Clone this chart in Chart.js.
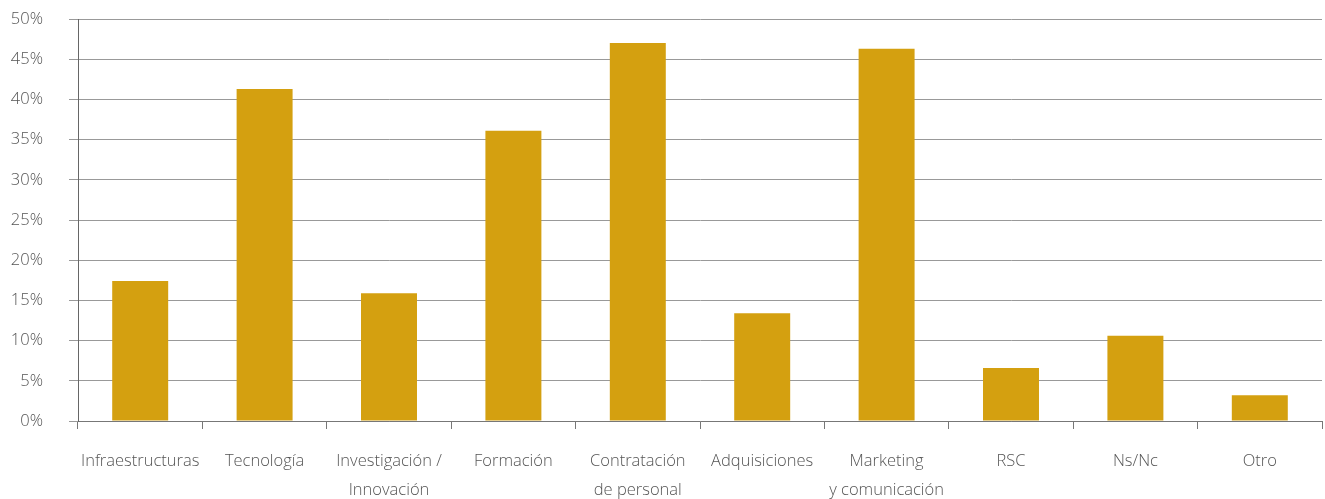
<!DOCTYPE html>
<html>
<head>
<meta charset="utf-8">
<script src="https://cdn.jsdelivr.net/npm/chart.js"></script>
<style>
  html, body { margin: 0; padding: 0; background: #fff; }
  #wrap { width: 1325px; height: 499px; }
</style>
</head>
<body>
<div id="wrap"><canvas id="myChart"></canvas></div>
<script>
const categories = [
  "Infraestructuras",
  "Tecnología",
  ["Investigación /", "Innovación"],
  "Formación",
  ["Contratación", "de personal"],
  "Adquisiciones",
  ["Marketing", "y comunicación"],
  "RSC",
  "Ns/Nc",
  "Otro"
];
const values = [17.4, 41.3, 15.9, 36.1, 47.0, 13.4, 46.3, 6.6, 10.6, 3.2];
const yTicks = [0, 5, 10, 15, 20, 25, 30, 35, 40, 45, 50];

Chart.defaults.font.family = "'Open Sans', sans-serif";
Chart.defaults.font.weight = 300;
Chart.defaults.color = '#555';

new Chart(document.getElementById('myChart'), {
  type: 'bar',
  data: {
    labels: categories,
    datasets: [{
      data: values,
      backgroundColor: '#D4A010',
      barPercentage: 0.9,
      categoryPercentage: 0.5
    }]
  },
  options: {
    responsive: true,
    maintainAspectRatio: false,
    animation: false,
    layout: { padding: { top: 19, right: 3, left: 0, bottom: 0 } },
    plugins: { legend: { display: false }, tooltip: { enabled: false } },
    scales: {
      x: {
        afterFit: axis => {
          axis.height = 78;
          axis.paddingLeft = 0;
          axis.paddingRight = 0;
        },
        grid: {
          display: true,
          drawOnChartArea: false,
          drawTicks: true,
          tickLength: 8,
          offset: true,
          color: '#777'
        },
        border: { color: '#777', width: 1 },
        ticks: { padding: 18, font: { size: 16.5, lineHeight: 1.75 }, maxRotation: 0, autoSkip: false }
      },
      y: {
        min: 0,
        max: 50,
        afterFit: axis => {
          axis.width = 78;
          axis.paddingTop = 0;
          axis.paddingBottom = 0;
        },
        afterBuildTicks: axis => { axis.ticks = yTicks.map(v => ({ value: v })); },
        grid: { color: '#999', tickLength: 9 },
        border: { color: '#666', width: 1 },
        ticks: {
          padding: 26,
          font: { size: 16.5 },
          callback: v => v + '%'
        }
      }
    }
  }
});
</script>
</body>
</html>
